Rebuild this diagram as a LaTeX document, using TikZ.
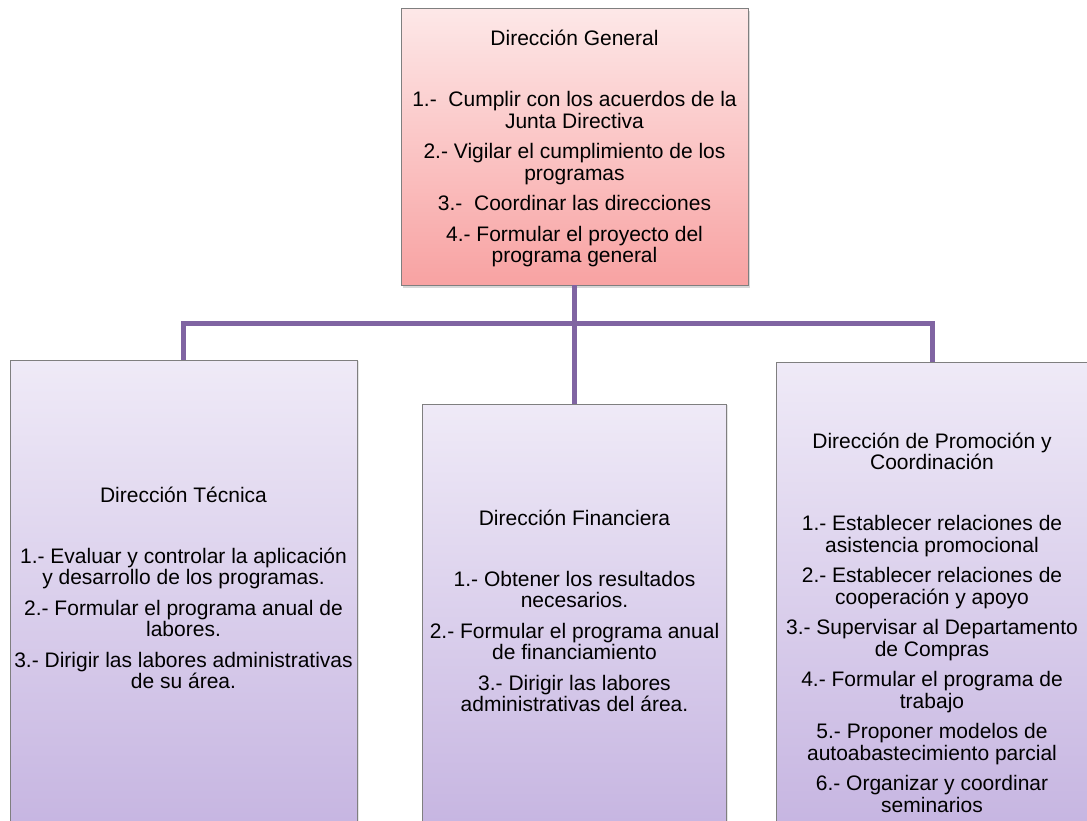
\documentclass[tikz,border=0pt]{standalone}
\usepackage{fontspec}
\setmainfont{Liberation Sans}
\usetikzlibrary{shadows}

\definecolor{busline}{HTML}{8064A2}
\definecolor{boxedge}{HTML}{7F7F7F}
\definecolor{pinktop}{HTML}{FDE8E8}
\definecolor{pinkbot}{HTML}{F8A2A2}
\definecolor{lilactop}{HTML}{EFEAF7}
\definecolor{lilacbot}{HTML}{C6B5E1}

% centred block of lines; the node's base is the first baseline
\newcommand{\orgtext}[1]{\parbox[t]{420pt}{\centering\fontsize{21}{21.5}\selectfont #1}}

\begin{document}
\begin{tikzpicture}[x=1pt,y=-1pt,
  boxbase/.style={draw=boxedge, line width=0.8pt, inner sep=0pt, outer sep=0pt,
    anchor=north west},
  genbox/.style={boxbase, top color=pinktop, bottom color=pinkbot,
    drop shadow={shadow xshift=1.5pt, shadow yshift=-3pt, opacity=0.3}},
  subbox/.style={boxbase, top color=lilactop, bottom color=lilacbot,
    drop shadow={shadow xshift=1.5pt, shadow yshift=-1pt, opacity=0.2}},
  boxlabel/.style={anchor=base, inner sep=0pt, text=black},
  bus/.style={draw=busline, line width=5pt}]

\useasboundingbox[fill=white] (0,0) rectangle (1087,820);

% boxes
\node[genbox, minimum width=347pt, minimum height=277pt] (gen) at (401,8) {};
\node[subbox, minimum width=347pt, minimum height=470pt] (tec) at (10,360) {};
\node[subbox, minimum width=304pt, minimum height=426pt] (fin) at (422.5,404) {};
\node[subbox, minimum width=312pt, minimum height=468pt] (pro) at (776,362) {};

% connectors
\coordinate (hub) at (574.5,323);
\draw[bus] (gen.south) -- (fin.north);
\draw[bus] (tec.north) |- (hub) -| (pro.north);

% texts
\node[boxlabel] (genT) at (574.5,45.5) {\orgtext{%
  Dirección General\\[39.5pt]
  1.-~ Cumplir con los acuerdos de la\\
  Junta Directiva\\[9pt]
  2.- Vigilar el cumplimiento de los\\
  programas\\[9pt]
  3.-~ Coordinar las direcciones\\[9pt]
  4.- Formular el proyecto del\\
  programa general}};

\node[boxlabel] (tecT) at (183.5,502) {\orgtext{%
  Dirección Técnica\\[39.5pt]
  1.- Evaluar y controlar la aplicación\\
  y desarrollo de los programas.\\[9pt]
  2.- Formular el programa anual de\\
  labores.\\[9pt]
  3.- Dirigir las labores administrativas\\
  de su área.}};

\node[boxlabel] (finT) at (574.5,525) {\orgtext{%
  Dirección Financiera\\[39.5pt]
  1.- Obtener los resultados\\
  necesarios.\\[9pt]
  2.- Formular el programa anual\\
  de financiamiento\\[9pt]
  3.- Dirigir las labores\\
  administrativas del área.}};

\node[boxlabel] (proT) at (932,448) {\orgtext{%
  Dirección de Promoción y\\
  Coordinación\\[39.5pt]
  1.- Establecer relaciones de\\
  asistencia promocional\\[9pt]
  2.- Establecer relaciones de\\
  cooperación y apoyo\\[9pt]
  3.- Supervisar al Departamento\\
  de Compras\\[9pt]
  4.- Formular el programa de\\
  trabajo\\[9pt]
  5.- Proponer modelos de\\
  autoabastecimiento parcial\\[9pt]
  6.- Organizar y coordinar\\
  seminarios}};
\end{tikzpicture}
\end{document}
